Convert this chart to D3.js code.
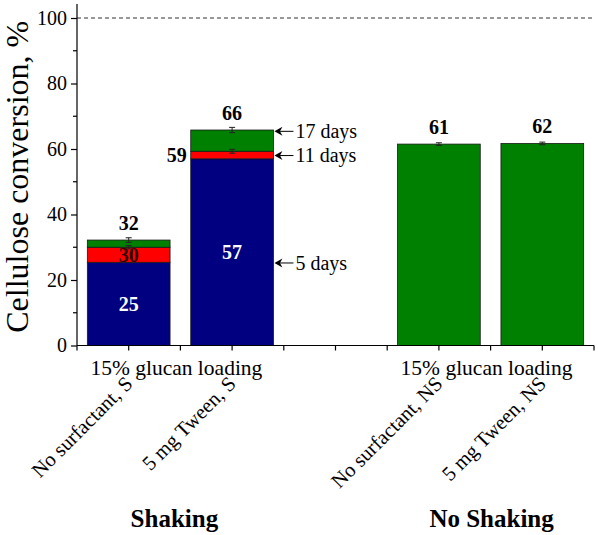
<!DOCTYPE html>
<html><head><meta charset="utf-8">
<script src="https://cdn.jsdelivr.net/npm/d3@7"></script>
<style>body{margin:0;background:#fff}svg{display:block}text{font-family:"Liberation Serif","Times New Roman",serif}</style>
</head><body>
<svg id="c" width="598" height="535"></svg>
<script>
const categories = ["No surfactant, S", "5 mg Tween, S", "", "No surfactant, NS", "5 mg Tween, NS"];
const day5  = [25.4, 57.0, null, null, null];
const day11 = [30.0, 59.3, null, null, null];
const day17 = [32.2, 65.8, null, 61.5, 61.7];
const err11 = [0.5, 0.6, null, null, null];
const err17 = [0.7, 0.8, null, 0.4, 0.4];
const label5  = ["25", "57", "", "", ""];
const label11 = ["30", "59", "", "", ""];
const label17 = ["32", "66", "", "61", "62"];
const yTicks = [0, 20, 40, 60, 80, 100];
const groupTitles = ["Shaking", "No Shaking"];
const loadingText = "15% glucan loading";
const annotDays = ["5 days", "11 days", "17 days"];
const annotValues = [25.2, 58.0, 65.4];

const svg = d3.select("#c");
const serif = '"Liberation Serif","Times New Roman",serif';
const x = d3.scaleBand().domain(d3.range(categories.length)).range([77, 594]).paddingInner(0.2).paddingOuter(0.1);
const y = d3.scaleLinear().domain([0, 100]).range([345.5, 18]);
const bw = x.bandwidth();
const step = x.step();
const cx = i => x(i) + bw / 2;

// dashed 100% line
svg.append("line").attr("x1", 77).attr("x2", 594).attr("y1", y(100)).attr("y2", y(100))
  .attr("stroke", "#333").attr("stroke-width", 1).attr("stroke-dasharray", "4,3");

// bars (stacked)
const colors = {d5: "#000080", d11: "#ff0000", d17: "#008000"};
categories.forEach((c, i) => {
  const segs = [];
  let base = 0;
  [[day5[i], colors.d5], [day11[i], colors.d11], [day17[i], colors.d17]].forEach(([v, col]) => {
    if (v != null) { segs.push([base, v, col]); base = v; }
  });
  segs.forEach(([a, b, col]) => {
    svg.append("rect").attr("x", x(i)).attr("width", bw).attr("y", y(b)).attr("height", y(a) - y(b))
      .attr("fill", col).attr("stroke", "#1a1a1a").attr("stroke-width", 0.8);
  });
});

// error bars
function errbar(i, v, e) {
  const g = svg.append("g").attr("stroke", "#222").attr("stroke-width", 1);
  g.append("line").attr("x1", cx(i)).attr("x2", cx(i)).attr("y1", y(v - e)).attr("y2", y(v + e));
  g.append("line").attr("x1", cx(i) - 3).attr("x2", cx(i) + 3).attr("y1", y(v + e)).attr("y2", y(v + e));
  g.append("line").attr("x1", cx(i) - 3).attr("x2", cx(i) + 3).attr("y1", y(v - e)).attr("y2", y(v - e));
}
categories.forEach((c, i) => {
  if (err11[i] != null) errbar(i, day11[i], err11[i]);
  if (err17[i] != null) errbar(i, day17[i], err17[i]);
});

// axes
const yAxis = d3.axisLeft(y).tickValues(yTicks).tickSize(6).tickPadding(4);
const ga = svg.append("g").attr("transform", "translate(77,0)").call(yAxis);
ga.attr("font-family", serif);
ga.select(".domain").attr("stroke", "#000").attr("stroke-width", 1.2).attr("d", `M0,${y(0)}V4`);
ga.selectAll(".tick line").attr("stroke", "#000").attr("stroke-width", 1.2);
ga.selectAll(".tick text").attr("font-size", 20).attr("font-family", serif).attr("fill", "#000");
// minor y ticks
svg.append("g").selectAll("line").data(d3.range(10, 100, 20)).join("line")
  .attr("x1", 73).attr("x2", 77).attr("y1", d => y(d)).attr("y2", d => y(d))
  .attr("stroke", "#000").attr("stroke-width", 1.2);

// x axis
svg.append("line").attr("x1", 77).attr("x2", 594).attr("y1", y(0)).attr("y2", y(0)).attr("stroke", "#000").attr("stroke-width", 1.2);
const xt = [];
categories.forEach((c, i) => { xt.push(cx(i)); xt.push(x(i) - (step - bw) / 2); });
xt.push(x(categories.length - 1) + bw + (step - bw) / 2);
svg.append("g").selectAll("line").data(xt).join("line")
  .attr("x1", d => d).attr("x2", d => d).attr("y1", y(0)).attr("y2", y(0) + 5)
  .attr("stroke", "#000").attr("stroke-width", 1.2);

// y title
svg.append("text").attr("transform", `translate(28,${(y(0) + 4) / 2 + 2}) rotate(-90)`)
  .attr("text-anchor", "middle").attr("font-size", 32).attr("font-family", serif).text("Cellulose conversion, %");

// bar labels
categories.forEach((c, i) => {
  if (label17[i]) svg.append("text").attr("x", cx(i)).attr("y", y(day17[i]) - 10).attr("text-anchor", "middle")
    .attr("font-size", 20).attr("font-weight", "bold").text(label17[i]);
  if (label5[i]) svg.append("text").attr("x", cx(i)).attr("y", (y(0) + y(day5[i])) / 2).attr("dy", "0.35em")
    .attr("text-anchor", "middle").attr("font-size", 20).attr("font-weight", "bold").attr("fill", "#fff").text(label5[i]);
});
// day11 labels
svg.append("text").attr("x", cx(0)).attr("y", (y(day5[0]) + y(day11[0])) / 2).attr("dy", "0.35em")
  .attr("text-anchor", "middle").attr("font-size", 20).attr("font-weight", "bold").attr("fill", "#2a0000").text(label11[0]);
svg.append("text").attr("x", x(1) - 4).attr("y", (y(day5[1]) + y(day11[1])) / 2).attr("dy", "0.35em")
  .attr("text-anchor", "end").attr("font-size", 20).attr("font-weight", "bold").text(label11[1]);

// annotations with arrows
const ax0 = x(1) + bw + 1;
annotValues.forEach((v, k) => {
  const yy = y(v);
  svg.append("path").attr("d", `M${ax0},${yy}L${ax0 + 8},${yy - 4.5}L${ax0 + 5.5},${yy}L${ax0 + 8},${yy + 4.5}Z`).attr("fill", "#000");
  svg.append("line").attr("x1", ax0 + 5).attr("x2", ax0 + 19).attr("y1", yy).attr("y2", yy).attr("stroke", "#000").attr("stroke-width", 1);
  svg.append("text").attr("x", ax0 + 21).attr("y", yy).attr("dy", "0.33em").attr("font-size", 20).text(annotDays[k]);
});

// group x texts
const titleShift = [-6, 1];
[[0, 1], [3, 4]].forEach(([a, b], g) => {
  const mid = (cx(a) + cx(b)) / 2;
  svg.append("text").attr("x", mid - 4).attr("y", 375).attr("text-anchor", "middle").attr("font-size", 21.5).text(loadingText);
  svg.append("text").attr("x", mid + titleShift[g]).attr("y", 527).attr("text-anchor", "middle").attr("font-size", 25).attr("font-weight", "bold").text(groupTitles[g]);
});

// rotated category labels
categories.forEach((c, i) => {
  if (!c) return;
  svg.append("text").attr("transform", `translate(${cx(i) + 5},${385}) rotate(-45)`)
    .attr("text-anchor", "end").attr("font-size", 20.5).text(c);
});
</script>
</body></html>
